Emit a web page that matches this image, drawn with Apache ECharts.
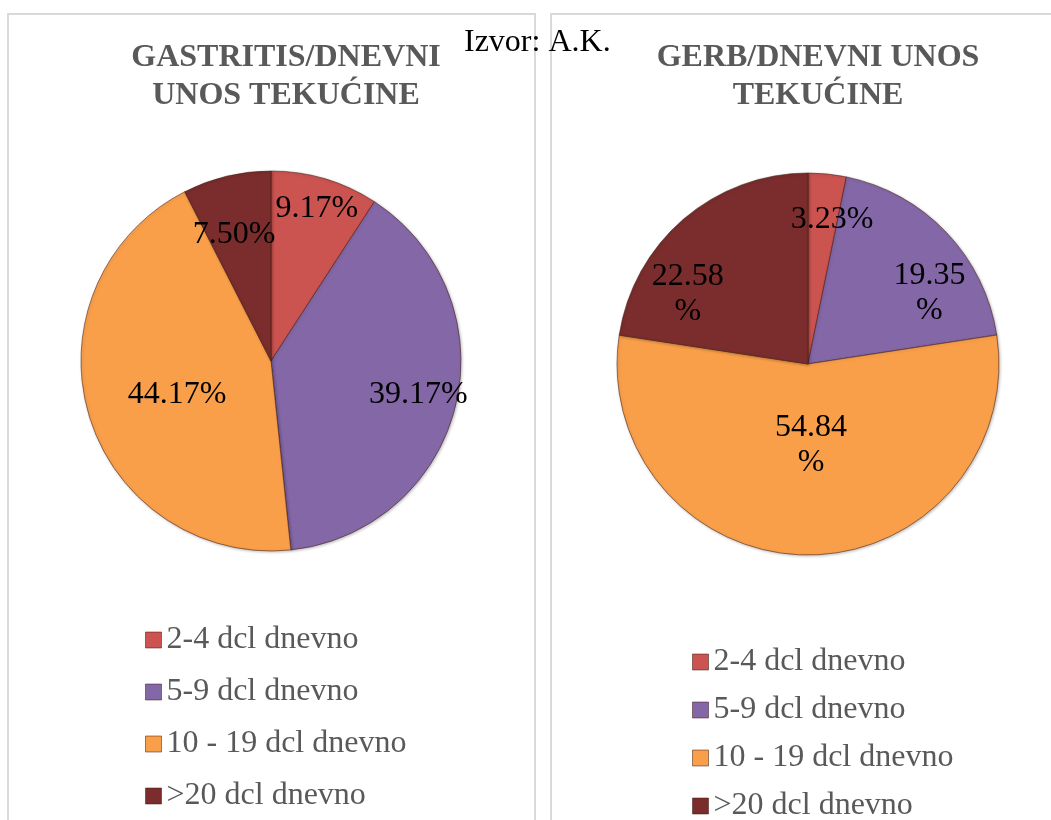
<!DOCTYPE html>
<html>
<head>
<meta charset="utf-8">
<script src="https://cdn.jsdelivr.net/npm/echarts@6/dist/echarts.min.js"></script>
<style>
html,body{margin:0;padding:0;background:#fff;}
#chart{width:1051px;height:820px;}
</style>
</head>
<body>
<div id="chart"></div>
<script>
const categories = ['2-4 dcl dnevno', '5-9 dcl dnevno', '10 - 19 dcl dnevno', '>20 dcl dnevno'];
const gastritisValues = [9.17, 39.17, 44.17, 7.50];
const gerbValues = [3.23, 19.35, 54.84, 22.58];
const titleLeft = 'GASTRITIS/DNEVNI\nUNOS TEKUĆINE';
const titleRight = 'GERB/DNEVNI UNOS\nTEKUĆINE';
const sourceText = 'Izvor: A.K.';

// styles
const sliceColors = ['#CB5350', '#8467A7', '#F99F4A', '#7A2D2C'];
const FONT = "'Liberation Serif', 'Times New Roman', serif";
const leftLabelShift = [[18, -58], [52, 11], [0, 6], [-14, -31]];
const rightLabelShift = [[14, -46], [50, -3], [3, -17], [-56, 5]];
const rightWrap = [false, true, true, true];

function buildData(values, wrap) {
  return categories.map((name, i) => ({
    name: name,
    value: values[i],
    itemStyle: { color: sliceColors[i] },
    label: {
      formatter: values[i].toFixed(2) + (wrap && wrap[i] ? '\n%' : '%')
    }
  }));
}

function pieSeries(values, center, radius, shifts, wrap) {
  return {
    type: 'pie',
    center: center,
    radius: radius,
    startAngle: 90,
    clockwise: true,
    avoidLabelOverlap: false,
    animation: false,
    data: buildData(values, wrap),
    itemStyle: {
      borderColor: 'rgba(70,30,20,0.55)',
      borderWidth: 1,
      shadowBlur: 3,
      shadowColor: 'rgba(0,0,0,0.25)',
      shadowOffsetX: 1,
      shadowOffsetY: 1
    },
    label: {
      show: true,
      position: 'inside',
      color: '#000',
      fontFamily: FONT,
      fontSize: 32,
      lineHeight: 35
    },
    labelLine: { show: false },
    labelLayout: function (p) {
      return { dx: shifts[p.dataIndex][0], dy: shifts[p.dataIndex][1] };
    },
    emphasis: { disabled: true }
  };
}

function legend(left, top, gap) {
  return {
    orient: 'vertical',
    left: left,
    top: top,
    height: 220,
    padding: 0,
    itemGap: gap,
    itemWidth: 16,
    itemHeight: 16,
    icon: 'rect',
    selectedMode: false,
    data: categories,
    itemStyle: { borderColor: 'rgba(60,20,10,0.5)', borderWidth: 1 },
    textStyle: {
      fontFamily: FONT,
      fontSize: 32,
      lineHeight: 32,
      color: '#595959',
      padding: [0, 0, 0, 0]
    }
  };
}

const chart = echarts.init(document.getElementById('chart'), null, { renderer: 'canvas' });
chart.setOption({
  backgroundColor: '#ffffff',
  animation: false,
  title: [
    {
      text: titleLeft,
      left: 286, top: 39, textAlign: 'center', padding: 0,
      textStyle: { fontFamily: FONT, fontWeight: 'bold', fontSize: 32, lineHeight: 38, color: '#595959' }
    },
    {
      text: titleRight,
      left: 818, top: 39, textAlign: 'center', padding: 0,
      textStyle: { fontFamily: FONT, fontWeight: 'bold', fontSize: 32, lineHeight: 38, color: '#595959' }
    }
  ],
  graphic: [
    { type: 'rect', shape: { x: 8, y: 14, width: 527, height: 830 }, style: { fill: 'none', stroke: '#D9D9D9', lineWidth: 2 }, z: -1 },
    { type: 'rect', shape: { x: 551, y: 14, width: 520, height: 830 }, style: { fill: 'none', stroke: '#D9D9D9', lineWidth: 2 }, z: -1 },
    { type: 'text', left: 464, top: 27, style: { text: sourceText, fontFamily: FONT, fontSize: 32, fill: '#000' }, z: 10 }
  ],
  legend: [legend(145, 624, 20), legend(692, 646, 16)],
  series: [
    pieSeries(gastritisValues, [271, 361], 190, leftLabelShift, null),
    pieSeries(gerbValues, [808, 364], 191, rightLabelShift, rightWrap)
  ]
});
</script>
</body>
</html>
